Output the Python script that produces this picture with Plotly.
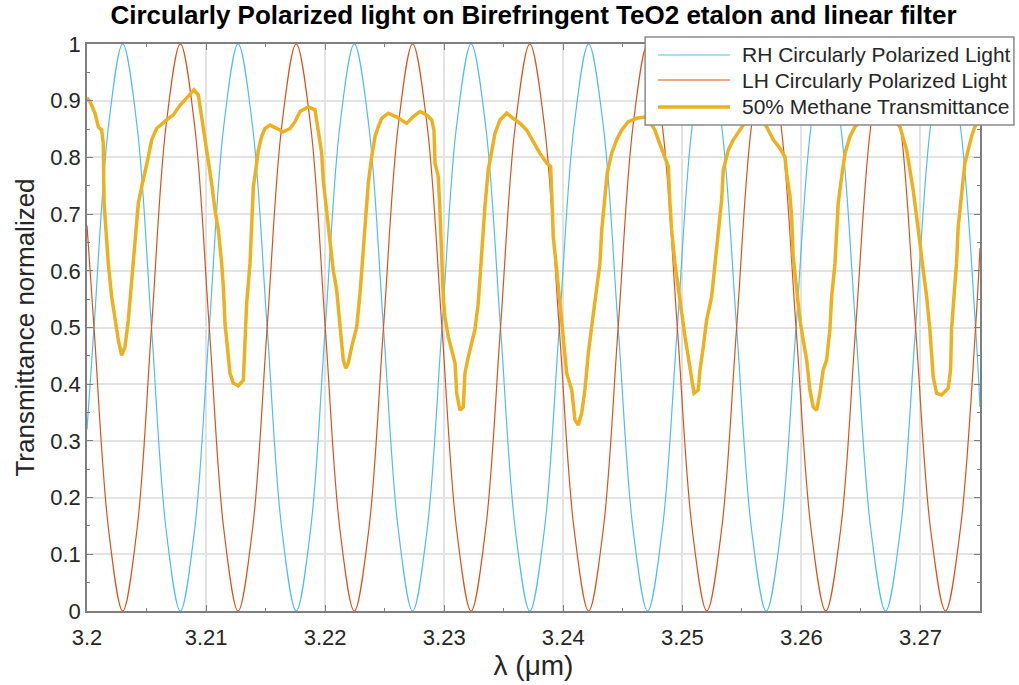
import plotly.graph_objects as go

# ---- Etalon transmission curves (at 1/8-period spacing) ----
wavelength_um = [
    3.20000, 3.20059, 3.20180, 3.20300,
    3.20421, 3.20542, 3.20663, 3.20784,
    3.20905, 3.21027, 3.21148, 3.21269,
    3.21391, 3.21513, 3.21635, 3.21757,
    3.21879, 3.22001, 3.22123, 3.22245,
    3.22368, 3.22490, 3.22613, 3.22735,
    3.22858, 3.22981, 3.23103, 3.23226,
    3.23349, 3.23473, 3.23596, 3.23719,
    3.23843, 3.23966, 3.24090, 3.24213,
    3.24337, 3.24461, 3.24585, 3.24709,
    3.24833, 3.24958, 3.25082, 3.25206,
    3.25331, 3.25456, 3.25580, 3.25705,
    3.25830, 3.25955, 3.26080, 3.26205,
    3.26331, 3.26456, 3.26582, 3.26707,
    3.26833, 3.26959, 3.27084, 3.27210,
    3.27336, 3.27463, 3.27500,
]

rh_transmittance = [
    0.32, 0.50, 0.854, 1.00,
    0.854, 0.50, 0.146, 0.00,
    0.146, 0.50, 0.854, 1.00,
    0.854, 0.50, 0.146, 0.00,
    0.146, 0.50, 0.854, 1.00,
    0.854, 0.50, 0.146, 0.00,
    0.146, 0.50, 0.854, 1.00,
    0.854, 0.50, 0.146, 0.00,
    0.146, 0.50, 0.854, 1.00,
    0.854, 0.50, 0.146, 0.00,
    0.146, 0.50, 0.854, 1.00,
    0.854, 0.50, 0.146, 0.00,
    0.146, 0.50, 0.854, 1.00,
    0.854, 0.50, 0.146, 0.00,
    0.146, 0.50, 0.854, 1.00,
    0.854, 0.50, 0.36,
]

lh_transmittance = [
    0.68, 0.50, 0.146, 0.00,
    0.146, 0.50, 0.854, 1.00,
    0.854, 0.50, 0.146, 0.00,
    0.146, 0.50, 0.854, 1.00,
    0.854, 0.50, 0.146, 0.00,
    0.146, 0.50, 0.854, 1.00,
    0.854, 0.50, 0.146, 0.00,
    0.146, 0.50, 0.854, 1.00,
    0.854, 0.50, 0.146, 0.00,
    0.146, 0.50, 0.854, 1.00,
    0.854, 0.50, 0.146, 0.00,
    0.146, 0.50, 0.854, 1.00,
    0.854, 0.50, 0.146, 0.00,
    0.146, 0.50, 0.854, 1.00,
    0.854, 0.50, 0.146, 0.00,
    0.146, 0.50, 0.64,
]

# ---- 50% methane transmittance ----
methane_wavelength_um = [
    3.20000, 3.20025, 3.20067, 3.20095, 3.20123, 3.20137, 3.20143, 3.20165,
    3.20179, 3.20207, 3.20235, 3.20263, 3.20291, 3.20319, 3.20347, 3.20375,
    3.20403, 3.20431, 3.20459, 3.20487, 3.20515, 3.20543, 3.20585, 3.20669,
    3.20725, 3.20781, 3.20837, 3.20899, 3.20935, 3.20963, 3.20991, 3.21019,
    3.21047, 3.21075, 3.21103, 3.21131, 3.21145, 3.21159, 3.21178, 3.21201,
    3.21229, 3.21271, 3.21313, 3.21327, 3.21341, 3.21369, 3.21383, 3.21397,
    3.21425, 3.21439, 3.21467, 3.21495, 3.21537, 3.21593, 3.21649, 3.21705,
    3.21747, 3.21789, 3.21858, 3.21915, 3.21942, 3.21971, 3.21984, 3.22013,
    3.22041, 3.22068, 3.22097, 3.22125, 3.22152, 3.22173, 3.22194, 3.22223,
    3.22265, 3.22293, 3.22315, 3.22335, 3.22362, 3.22391, 3.22419, 3.22446,
    3.22475, 3.22530, 3.22601, 3.22685, 3.22740, 3.22797, 3.22853, 3.22895,
    3.22914, 3.22923, 3.22950, 3.22964, 3.22979, 3.22992, 3.23006, 3.23034,
    3.23063, 3.23091, 3.23105, 3.23132, 3.23160, 3.23174, 3.23202, 3.23231,
    3.23258, 3.23286, 3.23315, 3.23342, 3.23370, 3.23399, 3.23426, 3.23468,
    3.23525, 3.23580, 3.23636, 3.23693, 3.23748, 3.23804, 3.23861, 3.23894,
    3.23903, 3.23916, 3.23945, 3.23972, 3.24000, 3.24029, 3.24071, 3.24098,
    3.24126, 3.24155, 3.24182, 3.24210, 3.24238, 3.24281, 3.24308, 3.24323,
    3.24350, 3.24369, 3.24406, 3.24448, 3.24490, 3.24546, 3.24616, 3.24686,
    3.24720, 3.24770, 3.24798, 3.24840, 3.24882, 3.24896, 3.24910, 3.24938,
    3.24966, 3.24994, 3.25022, 3.25050, 3.25078, 3.25098, 3.25134, 3.25148,
    3.25176, 3.25204, 3.25246, 3.25274, 3.25302, 3.25330, 3.25344, 3.25386,
    3.25428, 3.25470, 3.25512, 3.25568, 3.25635, 3.25677, 3.25708, 3.25764,
    3.25820, 3.25862, 3.25876, 3.25904, 3.25918, 3.25931, 3.25960, 3.25988,
    3.26015, 3.26044, 3.26071, 3.26099, 3.26128, 3.26155, 3.26183, 3.26212,
    3.26239, 3.26254, 3.26282, 3.26296, 3.26309, 3.26338, 3.26366, 3.26408,
    3.26450, 3.26534, 3.26643, 3.26743, 3.26828, 3.26884, 3.26912, 3.26939,
    3.26968, 3.26995, 3.27023, 3.27052, 3.27079, 3.27107, 3.27135, 3.27177,
    3.27233, 3.27253, 3.27261, 3.27281, 3.27303, 3.27317, 3.27345, 3.27373,
    3.27401, 3.27429, 3.27457, 3.27500,
]

methane_transmittance = [
    0.905, 0.898, 0.878, 0.854, 0.848, 0.825, 0.720, 0.643,
    0.613, 0.554, 0.513, 0.478, 0.451, 0.466, 0.513, 0.578,
    0.660, 0.719, 0.748, 0.772, 0.801, 0.831, 0.851, 0.866,
    0.875, 0.892, 0.904, 0.919, 0.910, 0.872, 0.831, 0.790,
    0.754, 0.707, 0.672, 0.613, 0.572, 0.507, 0.460, 0.419,
    0.402, 0.397, 0.407, 0.466, 0.543, 0.613, 0.684, 0.748,
    0.790, 0.813, 0.837, 0.851, 0.857, 0.851, 0.845, 0.851,
    0.863, 0.881, 0.889, 0.884, 0.848, 0.807, 0.760, 0.701,
    0.643, 0.601, 0.566, 0.496, 0.443, 0.428, 0.437, 0.466,
    0.501, 0.560, 0.625, 0.695, 0.754, 0.801, 0.837, 0.854,
    0.869, 0.878, 0.871, 0.860, 0.872, 0.881, 0.875, 0.866,
    0.848, 0.790, 0.766, 0.707, 0.613, 0.554, 0.519, 0.484,
    0.460, 0.437, 0.384, 0.354, 0.360, 0.419, 0.448, 0.472,
    0.496, 0.543, 0.637, 0.713, 0.778, 0.813, 0.842, 0.866,
    0.878, 0.869, 0.860, 0.848, 0.828, 0.807, 0.790, 0.784,
    0.737, 0.660, 0.601, 0.537, 0.478, 0.419, 0.390, 0.337,
    0.328, 0.349, 0.390, 0.454, 0.501, 0.566, 0.613, 0.672,
    0.725, 0.772, 0.807, 0.831, 0.848, 0.863, 0.869, 0.871,
    0.866, 0.848, 0.831, 0.807, 0.784, 0.719, 0.672, 0.613,
    0.566, 0.519, 0.484, 0.448, 0.407, 0.384, 0.390, 0.425,
    0.466, 0.513, 0.554, 0.613, 0.660, 0.725, 0.778, 0.813,
    0.831, 0.845, 0.857, 0.868, 0.872, 0.865, 0.854, 0.831,
    0.816, 0.801, 0.772, 0.731, 0.695, 0.625, 0.566, 0.513,
    0.478, 0.443, 0.390, 0.360, 0.354, 0.384, 0.425, 0.443,
    0.496, 0.554, 0.613, 0.660, 0.719, 0.766, 0.807, 0.837,
    0.854, 0.872, 0.880, 0.875, 0.854, 0.813, 0.778, 0.742,
    0.695, 0.643, 0.601, 0.554, 0.496, 0.413, 0.384, 0.381,
    0.393, 0.425, 0.496, 0.554, 0.613, 0.678, 0.742, 0.790,
    0.813, 0.837, 0.854, 0.870,
]

x_tick_values = [3.2, 3.21, 3.22, 3.23, 3.24, 3.25, 3.26, 3.27]
x_tick_labels = ["3.2", "3.21", "3.22", "3.23", "3.24", "3.25", "3.26", "3.27"]
y_tick_values = [0, 0.1, 0.2, 0.3, 0.4, 0.5, 0.6, 0.7, 0.8, 0.9, 1]
y_tick_labels = ["0", "0.1", "0.2", "0.3", "0.4", "0.5", "0.6", "0.7", "0.8", "0.9", "1"]

series_names = ["RH Circularly Polarized Light", "LH Circularly Polarized Light",
                "50% Methane Transmittance"]
series_colors = ["#4DBEEE", "#D95319", "#EDB120"]
series_widths = [1.2, 1.2, 3.5]

TEXT = "#262626"
AXIS = "#7f7f7f"
GRID = "#e3e3e3"
FONT = "Liberation Sans, Arial, sans-serif"

fig = go.Figure()
fig.add_trace(go.Scatter(x=wavelength_um, y=rh_transmittance, mode="lines",
                         name=series_names[0], showlegend=False,
                         line=dict(color=series_colors[0], width=series_widths[0],
                                   shape="spline", smoothing=1.0)))
fig.add_trace(go.Scatter(x=wavelength_um, y=lh_transmittance, mode="lines",
                         name=series_names[1], showlegend=False,
                         line=dict(color=series_colors[1], width=series_widths[1],
                                   shape="spline", smoothing=1.0)))
fig.add_trace(go.Scatter(x=methane_wavelength_um, y=methane_transmittance, mode="lines",
                         name=series_names[2], showlegend=False,
                         line=dict(color=series_colors[2], width=series_widths[2])))

# ---- legend box drawn in paper coordinates (MATLAB-style, top right) ----
legend_left, legend_right, legend_bottom, legend_top = 0.625, 1.038, 0.857, 1.0123
sample_x0, sample_x1, text_x = 0.6394, 0.7200, 0.7312
row_y = [0.9806, 0.9365, 0.8889]
shapes = [dict(type="rect", xref="paper", yref="paper",
               x0=legend_left, x1=legend_right, y0=legend_bottom, y1=legend_top,
               line=dict(color="#8a8a8a", width=1.5), fillcolor="white", layer="above")]
annotations = []
for name, color, width, yy in zip(series_names, series_colors, series_widths, row_y):
    shapes.append(dict(type="line", xref="paper", yref="paper",
                       x0=sample_x0, x1=sample_x1, y0=yy, y1=yy,
                       line=dict(color=color, width=width), layer="above"))
    annotations.append(dict(xref="paper", yref="paper", x=text_x, y=yy,
                            xanchor="left", yanchor="middle", showarrow=False,
                            text=name, font=dict(size=21, color=TEXT, family=FONT)))

fig.update_layout(
    width=1019, height=685,
    margin=dict(l=87, r=39, t=44, b=74),
    paper_bgcolor="white", plot_bgcolor="white",
    font=dict(family=FONT, color=TEXT, size=22),
    title=dict(text="<b>Circularly Polarized light on Birefringent TeO2 etalon and linear filter</b>",
               x=0.5, xref="paper", xanchor="center",
               y=1 - 15 / 685, yref="container", yanchor="middle",
               font=dict(size=26, color="black", family=FONT)),
    showlegend=False,
    shapes=shapes,
    annotations=annotations,
)

fig.update_xaxes(
    range=[3.2, 3.275], tickmode="array", tickvals=x_tick_values, ticktext=x_tick_labels,
    ticks="inside", ticklen=6, tickcolor=AXIS, tickwidth=1,
    showline=True, linecolor=AXIS, linewidth=1.5, mirror="ticks",
    showgrid=True, gridcolor=GRID, gridwidth=1.5, zeroline=False, automargin=False,
    tickfont=dict(size=22, color=TEXT), ticklabelstandoff=6,
    minor=dict(dtick=0.005, tick0=3.2, ticks="inside", ticklen=3, tickcolor=AXIS, showgrid=False),
    title=dict(text="λ (μm)", font=dict(size=28, color=TEXT), standoff=3),
)
fig.update_yaxes(
    range=[0, 1], tickmode="array", tickvals=y_tick_values, ticktext=y_tick_labels,
    ticks="inside", ticklen=6, tickcolor=AXIS, tickwidth=1,
    showline=True, linecolor=AXIS, linewidth=1.5, mirror="ticks",
    showgrid=True, gridcolor=GRID, gridwidth=1.5, zeroline=False, automargin=False,
    tickfont=dict(size=22, color=TEXT),
    minor=dict(dtick=0.05, tick0=0, ticks="inside", ticklen=3, tickcolor=AXIS, showgrid=False),
    title=dict(text="Transmittance normalized", font=dict(size=26, color=TEXT), standoff=8),
)

fig.write_html("out.html")
